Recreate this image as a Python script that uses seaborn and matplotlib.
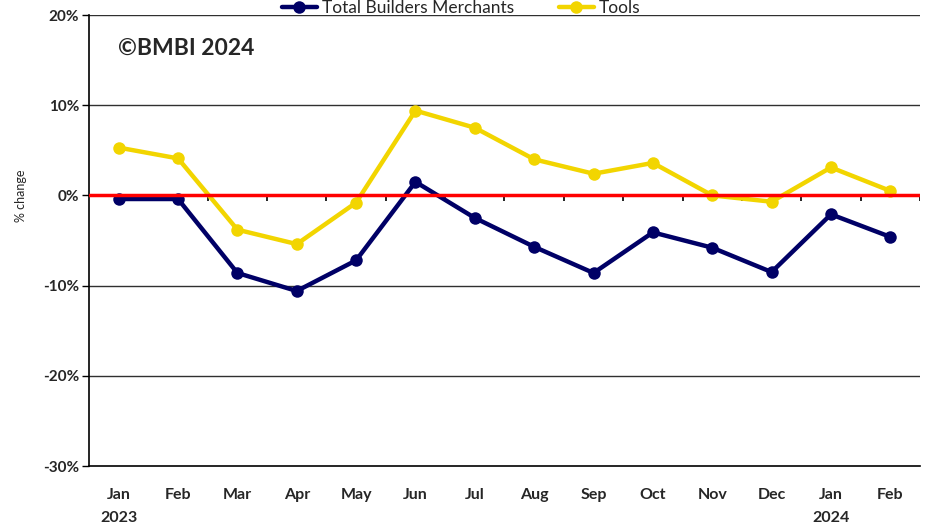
import numpy as np
import pandas as pd
import matplotlib
matplotlib.use('Agg')
import matplotlib.pyplot as plt
import seaborn as sns

# === DATA ===
months = ['Jan\n2023', 'Feb', 'Mar', 'Apr', 'May', 'Jun', 'Jul', 'Aug',
          'Sep', 'Oct', 'Nov', 'Dec', 'Jan\n2024', 'Feb']
total_bm = [-0.4, -0.4, -8.6, -10.6, -7.2, 1.5, -2.5, -5.7, -8.6, -4.1, -5.8, -8.5, -2.1, -4.6]
tools = [5.3, 4.1, -3.8, -5.4, -0.8, 9.4, 7.5, 4.0, 2.4, 3.6, 0.0, -0.7, 3.1, 0.5]
yticks = [-30, -20, -10, 0, 10, 20]

pos = np.arange(len(months))
df = pd.DataFrame({'pos': pos, 'Total Builders Merchants': total_bm, 'Tools': tools})
long = df.melt(id_vars='pos', var_name='series', value_name='pct')

sns.set_style('white')
plt.rcParams['font.family'] = ['Lato', 'DejaVu Sans']

fig = plt.figure(figsize=(9.28, 5.27), dpi=100)
ax = fig.add_axes([89 / 928, 1 - 466 / 527, (920 - 89) / 928, (466 - 15) / 527])

colors = {'Total Builders Merchants': '#000066', 'Tools': '#F2D500'}
for name in ['Total Builders Merchants', 'Tools']:
    sub = long[long['series'] == name]
    sns.lineplot(data=sub, x='pos', y='pct', ax=ax, color=colors[name],
                 linewidth=3.2, marker='o', markersize=9, markeredgewidth=0,
                 label=name, zorder=3)

# gridlines and zero line
for v in [10, 20, -10, -20]:
    ax.axhline(v, color='#303030', linewidth=1, zorder=1)
ax.axhline(0, color='#FF0000', linewidth=2.5, zorder=4)

# tick marks between categories on the zero line
bounds = np.arange(len(months) + 1) - 0.5
ax.vlines(bounds[1:], -0.6, 0, color='black', linewidth=1.2, zorder=2)

ax.set_xlim(-0.5, len(months) - 0.5)
ax.set_ylim(-30, 20)
ax.set_yticks(yticks)
ax.set_yticklabels([f'{v}%' for v in yticks], fontsize=11, fontweight='bold')
ax.set_xticks(pos)
ax.set_xticklabels(months, fontsize=11.5, fontweight='bold', linespacing=1.8)
ax.tick_params(axis='x', length=0, pad=16)
ax.tick_params(axis='y', direction='out', length=5, width=1, color='black', left=True, pad=2)

ax.set_xlabel('')
ax.set_ylabel('% change', fontsize=9)
ax.yaxis.set_label_coords(-0.075, 0.6)

for s in ['top', 'right']:
    ax.spines[s].set_visible(False)
ax.spines['left'].set_color('black')
ax.spines['bottom'].set_color('black')
ax.spines['left'].set_linewidth(1.2)
ax.spines['bottom'].set_linewidth(1.2)

ax.text(0.035, 0.925, '©BMBI 2024', transform=ax.transAxes, fontsize=16.5,
        fontweight='bold', va='center', ha='left')

ax.legend(loc='center', bbox_to_anchor=(0.497, 1 - 8 / 527), bbox_transform=fig.transFigure,
          ncol=2, frameon=False, fontsize=12.5, handlelength=2.0, columnspacing=2.6,
          handletextpad=0.3, borderpad=0)

plt.savefig('out.png', dpi=100)
